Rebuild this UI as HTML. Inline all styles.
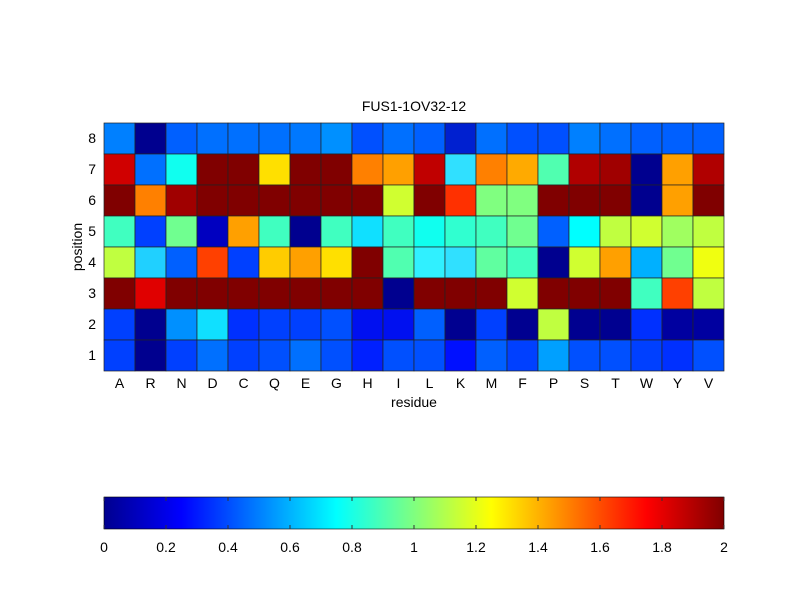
<!DOCTYPE html>
<html><head><meta charset="utf-8"><style>body{margin:0;background:#fff}svg{display:block}text{font-family:"Liberation Sans",sans-serif;font-size:14px;fill:#000}</style></head>
<body>
<svg id="s" width="800" height="600" xmlns="http://www.w3.org/2000/svg">
<defs><linearGradient id="jet" x1="0" x2="1" y1="0" y2="0">
<stop offset="0" stop-color="#00008f"/><stop offset="0.125" stop-color="#0000ff"/><stop offset="0.375" stop-color="#00ffff"/><stop offset="0.625" stop-color="#ffff00"/><stop offset="0.875" stop-color="#ff0000"/><stop offset="1" stop-color="#800000"/></linearGradient></defs>
<rect width="800" height="600" fill="#fff"/>
<g id="cells"></g>
<text x="414" y="111" text-anchor="middle">FUS1-1OV32-12</text>
<g id="lab"></g>
<text x="414" y="407" text-anchor="middle">residue</text>
<text transform="translate(82,247) rotate(-90)" text-anchor="middle">position</text>
<rect x="104" y="497" width="620" height="32" fill="url(#jet)" stroke="#000" stroke-width="0.6"/>
<g id="cb"></g>
</svg>
<script>
var rows=[
"0080ff 00008f 0060ff 0070ff 0070ff 0070ff 0078ff 0090ff 0050ff 0070ff 0060ff 0020d0 0070ff 0050ff 0050ff 0080ff 0070ff 0060ff 0060ff 0060ff",
"d00000 0070ff 10ffef 800000 800000 ffe000 800000 800000 ff8000 ffa000 c00000 30e0ff ff8000 ffaa00 50ffb0 b00000 a00000 00008f ffa000 b00000",
"800000 ff8000 a00000 800000 800000 800000 800000 800000 800000 d0ff30 800000 ff3000 80ff80 80ff80 800000 800000 800000 00008f ffa000 800000",
"40ffc0 0040ff 70ff90 0000c0 ffa000 40ffc0 00008f 40ffc0 10e0ff 40ffc0 10ffef 30ffd0 40ffc0 70ff90 0060ff 00ffff c0ff40 d0ff30 a0ff60 c0ff40",
"c0ff40 20d0ff 0060ff ff4000 0040ff ffcc00 ffa000 ffe000 800000 50ffb0 30f0ff 30e0ff 60ffa0 40ffc0 00008f d0ff30 ffa000 00b0ff 70ff90 f0ff10",
"800000 e00000 800000 800000 800000 800000 800000 800000 800000 00008f 800000 800000 800000 d0ff30 800000 800000 800000 40ffc0 ff4000 c0ff40",
"0040ff 00008f 0090ff 10e0ff 0030ff 0040ff 0040ff 0050ff 0010f0 0010f0 0060ff 000090 0040ff 000090 c0ff40 000090 000090 0030ff 0000a0 0000a0",
"0040ff 00008f 0040ff 0070ff 0040ff 0050ff 0070ff 0050ff 0020ff 0050ff 0050ff 0010ff 0060ff 0040ff 00a0ff 0050ff 0050ff 0040ff 0030ff 0050ff"];
var res="ARNDCQEGHILKMFPSTWYV".split("");
var h="",cw=31,ch=31,x0=104,y0=123;
rows.forEach(function(r,i){r.split(" ").forEach(function(c,j){h+='<rect x="'+(x0+j*cw)+'" y="'+(y0+i*ch)+'" width="'+cw+'" height="'+ch+'" fill="#'+c+'" stroke="#222" stroke-width="0.7"/>';});});
document.getElementById("cells").innerHTML=h;
var l="";
res.forEach(function(r,j){l+='<text x="'+(x0+j*cw+15.5)+'" y="388" text-anchor="middle">'+r+'</text>';});
for(var i=0;i<8;i++){l+='<text x="96" y="'+(y0+i*ch+20)+'" text-anchor="end">'+(8-i)+'</text>';}
document.getElementById("lab").innerHTML=l;
var c="";
for(var k=0;k<=10;k++){var x=104+k*62;c+='<line x1="'+x+'" x2="'+x+'" y1="497" y2="501" stroke="#333"/><line x1="'+x+'" x2="'+x+'" y1="525" y2="529" stroke="#333"/><text x="'+x+'" y="552" text-anchor="middle">'+(k===0?"0":k===5?"1":k===10?"2":(k*0.2).toFixed(1))+'</text>';}
document.getElementById("cb").innerHTML=c;
</script>
</body></html>
